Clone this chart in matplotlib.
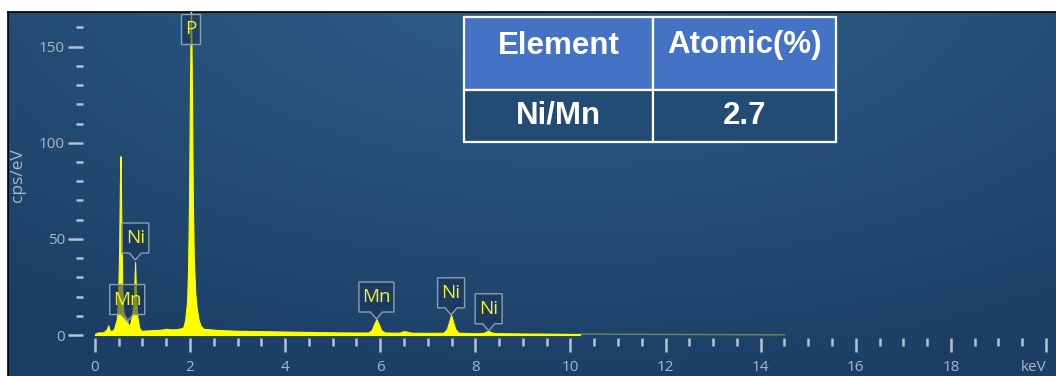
#!/usr/bin/env python

import numpy as np
import matplotlib.pyplot as plt
import matplotlib.patches as mpatches
import matplotlib.transforms as mtransforms

output_filepath = "out.png"

# EDS spectrum, energy (keV) vs counts (cps/eV)
energy = [0.00, 0.05, 0.10, 0.15, 0.20, 0.25, 0.28, 0.31, 0.35, 0.40,
          0.46, 0.49, 0.51, 0.53, 0.54, 0.555, 0.575, 0.60, 0.63, 0.66,
          0.70, 0.74, 0.78, 0.82, 0.845, 0.865, 0.89, 0.93, 0.97, 1.05,
          1.2, 1.3, 1.4, 1.5, 1.6, 1.7, 1.8, 1.86, 1.90, 1.94, 1.96,
          1.98, 2.00, 2.02, 2.04, 2.06, 2.08, 2.11, 2.14, 2.18, 2.22,
          2.28, 2.6, 3.0, 3.5, 4.0, 4.5, 5.0, 5.5, 5.75, 5.82, 5.87,
          5.92, 5.97, 6.02, 6.1, 6.40, 6.47, 6.52, 6.58, 6.66, 7.0,
          7.33, 7.40, 7.45, 7.49, 7.53, 7.58, 7.65, 8.0, 8.15, 8.22,
          8.27, 8.32, 8.40, 9.0, 9.6, 10.2]
counts = [0.5, 1.2, 1.4, 1.3, 1.8, 3.0, 5.0, 2.5, 2.0, 3.0,
          8.0, 20.0, 45.0, 85.0, 93.0, 60.0, 25.0, 12.0, 10.0, 9.0,
          5.0, 5.5, 10.0, 18.0, 38.0, 22.0, 10.0, 4.0, 2.2, 2.3,
          2.5, 2.6, 2.8, 3.2, 2.9, 3.0, 3.4, 4.0, 8.0, 18.0, 35.0,
          70.0, 130.0, 175.0, 130.0, 70.0, 40.0, 22.0, 14.0, 8.0, 5.0,
          3.2, 2.6, 2.2, 2.0, 1.8, 1.6, 1.4, 1.3, 1.3, 2.5, 5.5,
          8.3, 5.5, 2.5, 1.3, 1.2, 1.8, 2.0, 1.6, 1.2, 1.1,
          1.2, 3.0, 7.0, 10.5, 7.0, 3.0, 1.2, 0.9, 1.0, 1.6,
          2.2, 1.6, 1.0, 0.8, 0.7, 0.5]

# faint high-energy tail
tail_energy = [10.2, 11.0, 12.0, 13.0, 14.5]
tail_counts = [0.5, 0.4, 0.3, 0.2, 0.1]

# peak labels: element, energy (keV), anchor counts, has pointer
peak_names = ["P", "Ni", "Mn", "Mn", "Ni", "Ni"]
peak_keV = [2.02, 0.85, 0.68, 5.92, 7.49, 8.28]
peak_anchor = [151.5, 39.0, 7.0, 8.3, 10.5, 2.2]
peak_pointer = [False, True, True, True, True, True]

# composition table
table_header = ["Element", "Atomic(%)"]
table_row = ["Ni/Mn", "2.7"]

W, H = 1056, 376
fig = plt.figure(figsize=(W / 100, H / 100), dpi=100, facecolor='white')

# dark blue panel with a soft radial gradient
bg = fig.add_axes([8 / W, 0, (W - 8) / W, (H - 12) / H])
yy, xx = np.mgrid[0:364, 0:1048]
d = np.hypot((xx - 560) / 900, (yy + 40) / 420)
d = np.clip(d, 0, 1)[..., None]
c_in = np.array([47, 97, 140]) / 255
c_out = np.array([28, 62, 102]) / 255
bg.imshow(c_in * (1 - d) + c_out * d, aspect='auto', extent=[0, 1, 0, 1],
          origin='upper')
bg.set_xticks([])
bg.set_yticks([])
for side in ['right', 'bottom']:
    bg.spines[side].set_visible(False)
for side in ['left', 'top']:
    bg.spines[side].set_color('black')
    bg.spines[side].set_linewidth(1.2)

ax = fig.add_axes([83 / W, (H - 338) / H, (W - 83) / W, 326 / H])
ax.set_facecolor('none')
for s in ax.spines.values():
    s.set_visible(False)

ax.fill_between(energy, counts, 0, color='#ffff00', lw=0.8, zorder=2)
ax.plot(tail_energy, tail_counts, color='#d8d840', lw=1.0, alpha=0.45, zorder=2)
ax.set_xlim(-0.25, 20.21)
ax.set_ylim(-1.56, 168.0)

tick_c = '#b4c2d0'
lab_c = '#a7b7c8'
ax.set_xticks(np.arange(0, 21, 2))
ax.set_xticklabels([str(v) for v in range(0, 20, 2)] + ["keV"])
ax.set_xticks(np.arange(0, 20.01, 0.5), minor=True)
ax.set_yticks([0, 50, 100, 150])
ax.set_yticks(np.arange(0, 161, 10), minor=True)
ax.tick_params(which='major', axis='x', length=10, width=1.8, color=tick_c,
               labelcolor=lab_c, labelsize=11, pad=6)
ax.tick_params(which='minor', axis='x', length=6, width=1.8, color=tick_c)
ax.tick_params(which='major', axis='y', length=11, width=1.8, color=tick_c,
               labelcolor=lab_c, labelsize=11, pad=2)
ax.tick_params(which='minor', axis='y', length=5, width=1.8, color=tick_c)
for lab in ax.get_xticklabels() + ax.get_yticklabels():
    lab.set_family('Open Sans')
# keep the unit label inside the canvas
kev = ax.get_xticklabels()[-1]
kev.set_horizontalalignment('right')
kev.set_x(20.3)
ax.set_ylabel("cps/eV", color=lab_c, fontsize=12.5, family='Open Sans',
              labelpad=9)

# callout boxes over the peaks
widths = {'P': 19, 'Ni': 27, 'Mn': 35}
box_h, tip_h, tip_w = 30, 7, 12
for name, x, y, ptr in zip(peak_names, peak_keV, peak_anchor, peak_pointer):
    trans = fig.dpi_scale_trans + mtransforms.ScaledTranslation(x, y, ax.transData)
    w = widths[name]
    th = tip_h if ptr else 0
    if ptr:
        verts = [(0, 0), (-tip_w / 2, th), (-w / 2, th), (-w / 2, th + box_h),
                 (w / 2, th + box_h), (w / 2, th), (tip_w / 2, th)]
    else:
        verts = [(-w / 2, 0), (-w / 2, box_h), (w / 2, box_h), (w / 2, 0)]
    verts = [(vx / 100, vy / 100) for vx, vy in verts]
    ax.add_patch(mpatches.Polygon(verts, closed=True, transform=trans,
                                  facecolor=(0.10, 0.20, 0.34, 0.55),
                                  edgecolor='#8d9fb3', lw=1.0, zorder=3,
                                  clip_on=False))
    ax.text(0, (th + box_h / 2) / 100, name, transform=trans, ha='center',
            va='center', color='#f2f22a', fontsize=13.5, family='Open Sans',
            zorder=4)

# composition table, top right of the spectrum
tbl = ax.table(cellText=[table_header, table_row], cellLoc='center',
               bbox=[(464 - 83) / 973, (338 - 142) / 326, 372 / 973, 125 / 326])
tbl.auto_set_font_size(False)
col_w = [189, 183]
row_h = [73, 52]
for (r, c), cell in tbl.get_celld().items():
    cell.set_width(col_w[c])
    cell.set_height(row_h[r])
    cell.set_edgecolor('white')
    cell.set_linewidth(1.6)
    cell.set_facecolor('#4472c4' if r == 0 else '#224b76')
    txt = cell.get_text()
    txt.set_color('white')
    txt.set_fontsize(22.5)
    txt.set_fontweight('bold')
    txt.set_family('Liberation Sans')
    if r == 0:
        txt.set_va('baseline')
tbl.set_zorder(5)

if output_filepath:
    plt.savefig(output_filepath, dpi=100)
